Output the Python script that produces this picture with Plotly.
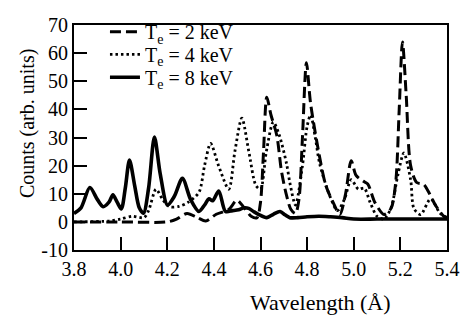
import plotly.graph_objects as go

# ---- data ----
x2 = [3.80, 4.00, 4.20, 4.24, 4.285, 4.33, 4.365, 4.41, 4.464, 4.499, 4.53, 4.56, 4.585, 4.60, 4.613,
      4.627, 4.645, 4.67, 4.69, 4.712, 4.73, 4.75, 4.765, 4.78, 4.797, 4.815, 4.854, 4.88, 4.911, 4.94,
      4.965, 4.989, 5.01, 5.04, 5.06, 5.09, 5.13, 5.16, 5.18, 5.195, 5.209, 5.225, 5.244, 5.27, 5.30,
      5.325, 5.35, 5.386, 5.40]
y2 = [0, 0, 0, 1, 3, 1.5, 0.3, 2.7, 4.4, 7.7, 5, 2, 1.5, 7, 25,
      44.3, 38, 30.7, 18, 9.3, 4.5, 3, 8, 30, 56.6, 42, 22.9, 13, 7, 2.6,
      10, 21.7, 16.5, 14.5, 13.5, 7, 2.6, 4.8, 14, 40, 64, 45, 20, 14, 13.3,
      10, 6, 2, 1.5]

x4 = [3.80, 3.95, 4.00, 4.05, 4.10, 4.12, 4.152, 4.18, 4.209, 4.25, 4.29, 4.336, 4.36, 4.386, 4.42,
      4.464, 4.49, 4.52, 4.55, 4.58, 4.60, 4.625, 4.655, 4.68, 4.712, 4.726, 4.75, 4.78, 4.80, 4.815,
      4.835, 4.854, 4.897, 4.93, 4.96, 4.989, 5.02, 5.045, 5.07, 5.10, 5.13, 5.16, 5.19, 5.215, 5.244,
      5.258, 5.287, 5.33, 5.37, 5.40]
y4 = [0, 0.3, 1, 2, 1.5, 4, 11.6, 8, 5.4, 5.5, 7, 10.5, 20, 27.9, 20,
      11.6, 25, 36.9, 25, 13, 11.6, 25, 35.5, 31, 20.6, 13.9, 6, 20, 34, 38,
      30, 20.6, 9.3, 4, 8, 15, 11.6, 12, 7, 2, 1, 5, 17, 24.5, 15,
      4.8, 2.6, 8.2, 3.1, 1.5]

x8 = [3.80, 3.83, 3.868, 3.90, 3.925, 3.95, 3.967, 3.985, 4.003, 4.02, 4.038, 4.06, 4.08, 4.098, 4.12,
      4.145, 4.17, 4.201, 4.23, 4.265, 4.30, 4.336, 4.36, 4.379, 4.395, 4.421, 4.45, 4.48, 4.506, 4.53,
      4.549, 4.57, 4.593, 4.627, 4.655, 4.684, 4.705, 4.726, 4.76, 4.80, 4.85, 4.90, 4.95, 5.00, 5.10,
      5.20, 5.30, 5.40]
y8 = [3, 5, 12.2, 8, 5.4, 7, 9.6, 7, 4.6, 12, 22, 13, 5, 3.1, 12,
      30.2, 17, 6, 9, 15.5, 8, 3.7, 6, 8.2, 7.5, 11, 3.7, 4, 4.3, 5,
      4.8, 3.7, 2.6, 1.5, 2.7, 3.7, 2.5, 1.5, 1.5, 1.8, 2, 1.8, 1.5, 1, 1,
      1, 1, 1]

names = ["T<sub>e</sub> = 2 keV", "T<sub>e</sub> = 4 keV", "T<sub>e</sub> = 8 keV"]
x_ticks = [3.8, 4.0, 4.2, 4.4, 4.6, 4.8, 5.0, 5.2, 5.4]
y_ticks = [-10, 0, 10, 20, 30, 40, 50, 60, 70]

FONT = "Liberation Serif"

fig = go.Figure()
fig.add_trace(go.Scatter(x=x2, y=y2, mode="lines", name=names[0], legend="legend",
                         line=dict(color="black", width=3, dash="11px,5px", shape="spline", smoothing=0.8)))
fig.add_trace(go.Scatter(x=x4, y=y4, mode="lines", name=names[1], legend="legend2",
                         line=dict(color="black", width=2.8, dash="2.5px,3px", shape="spline", smoothing=0.8)))
fig.add_trace(go.Scatter(x=x8, y=y8, mode="lines", name=names[2], legend="legend3",
                         line=dict(color="black", width=3.6, shape="spline", smoothing=0.8)))


def leg(row_px):
    return dict(x=0.083, y=(250 - row_px) / 237, xanchor="left", yanchor="middle",
                bgcolor="rgba(0,0,0,0)", borderwidth=0,
                font=dict(family=FONT, size=20, color="black"), itemwidth=30)


fig.update_layout(
    width=472, height=326,
    margin=dict(l=74, r=22, t=13, b=76),
    paper_bgcolor="white", plot_bgcolor="white",
    font=dict(family=FONT, size=19, color="black"),
    showlegend=True,
    legend=leg(20), legend2=leg(44), legend3=leg(68),
)
fig.update_xaxes(range=[3.8, 5.4], tickvals=x_ticks, ticktext=[f"{v:.1f}" for v in x_ticks],
                 ticks="inside", ticklen=13, tickwidth=2, tickcolor="black",
                 showline=True, linewidth=2, linecolor="black", mirror=True,
                 showgrid=False, zeroline=False, tickfont=dict(family=FONT, size=20))
fig.update_yaxes(range=[-10, 70], tickvals=y_ticks, ticktext=[str(v) for v in y_ticks],
                 ticks="inside", ticklen=13, tickwidth=2, tickcolor="black",
                 showline=True, linewidth=2, linecolor="black", mirror=True,
                 showgrid=False, zeroline=False, tickfont=dict(family=FONT, size=20))

fig.add_annotation(text="Wavelength (Å)", xref="paper", yref="paper",
                   x=(322 - 74) / 376, y=-(305 - 250) / 237, showarrow=False,
                   xanchor="center", yanchor="middle", font=dict(family=FONT, size=22))
fig.add_annotation(text="Counts (arb. units)", xref="paper", yref="paper",
                   x=-(74 - 27) / 376, y=(250 - 117) / 237, showarrow=False, textangle=-90,
                   xanchor="center", yanchor="middle", font=dict(family=FONT, size=20))

fig.write_html("out.html")
